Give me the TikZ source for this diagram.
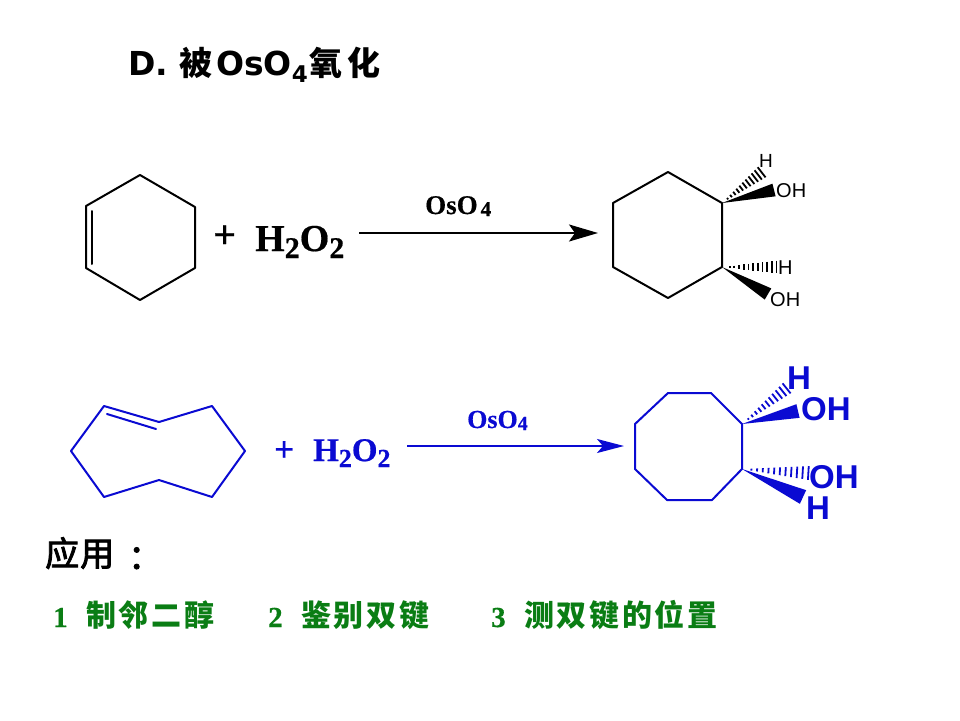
\documentclass[tikz,border=0pt]{standalone}
\usepackage{fontspec}
\usetikzlibrary{calc,arrows.meta}
\setmainfont[BoldFeatures={FakeBold=0.5}]{Liberation Serif}
\newfontfamily\cjk{Noto Sans CJK SC}
\newfontfamily\cjkm[FakeBold=2.5]{Noto Sans CJK SC}
\newfontfamily\cjks[LetterSpace=9]{Noto Sans CJK SC}
\newfontfamily\titlefont{DejaVu Sans}
\newfontfamily\labelfont{Liberation Sans}
\definecolor{rxblue}{RGB}{10,10,210}
\definecolor{rxgreen}{RGB}{10,125,20}
\newcommand{\fsz}[1]{\fontsize{#1}{#1}\selectfont}
\newcommand{\lowsub}[3]{\raisebox{-#1pt}{\fsz{#2}#3}}
\newcommand{\hashbond}[4][]{%
  \foreach \t in {0.14,0.225,...,1.0}{
    \draw[#1,line width=1.8pt] ($(#2)!\t!(#3)!{#4*\t*1pt}!90:(#3)$) -- ($(#2)!\t!(#3)!{#4*\t*1pt}!-90:(#3)$);
  }}
\newcommand{\wedgebond}[4][]{%
  \fill[#1] (#2) -- ($(#3)!#4pt!90:(#2)$) -- ($(#3)!#4pt!-90:(#2)$) -- cycle;}
\tikzset{
  txt/.style={inner sep=0pt,anchor=base west},
  bondk/.style={line width=2pt,black,line join=round,line cap=round},
  bondb/.style={line width=2pt,rxblue,line join=round,line cap=round},
  arrowk/.style={line width=2pt,black,-{Stealth[length=29pt,width=17pt,inset=6pt]}},
  arrowb/.style={line width=2pt,rxblue,-{Stealth[length=27pt,width=14pt,inset=6pt]}}
}
\begin{document}
\begin{tikzpicture}[x=1pt,y=-1pt]
\useasboundingbox (0,0) rectangle (960,720);
\fill[white] (0,0) rectangle (960,720);

% title
\node[txt] (title) at (128,75) {\titlefont\bfseries\fsz{33}D.\hspace{11pt}{\cjk\fsz{33}被}\hspace{4pt}OsO\lowsub{7}{23}{4}\hspace{2pt}{\cjk\fsz{33}氧\hspace{5pt}化}};

% cyclohexene
\coordinate (a1) at (140,175); \coordinate (a2) at (195,207); \coordinate (a3) at (195,268);
\coordinate (a4) at (140,300); \coordinate (a5) at (86,268); \coordinate (a6) at (86,206);
\coordinate (a7) at (92,211); \coordinate (a8) at (92,264);
\draw[bondk] (a1) -- (a2) -- (a3) -- (a4) -- (a5) -- (a6) -- cycle;
\draw[bondk] (a7) -- (a8);

\node[txt] (plus1) at (213,248) {\bfseries\fsz{40}+};
\node[txt] (h2o2a) at (255,251) {\bfseries\fsz{38}H\lowsub{7}{30}{2}O\lowsub{7}{30}{2}};
\node[txt] (os1) at (425,214) {\bfseries\fsz{27}OsO\hspace{3pt}\lowsub{2}{21}{4}};
\coordinate (s1) at (359,233); \coordinate (e1) at (598,233);
\draw[arrowk] (s1) -- (e1);

% product 1
\coordinate (b1) at (668,172); \coordinate (b2) at (722,203); \coordinate (b3) at (722,267);
\coordinate (b4) at (668,298); \coordinate (b5) at (613,267); \coordinate (b6) at (613,203);
\draw[bondk] (b1) -- (b2) -- (b3) -- (b4) -- (b5) -- (b6) -- cycle;
\coordinate (bh1) at (762,172); \coordinate (bo1) at (774,190);
\coordinate (bh2) at (777,267); \coordinate (bo2) at (768,294);
\hashbond[black]{b2}{bh1}{6.5}
\wedgebond[black]{b2}{bo1}{6.5}
\hashbond[black]{b3}{bh2}{6.5}
\wedgebond[black]{b3}{bo2}{6.5}
\node[txt] (h1) at (759,167) {\labelfont\fsz{19}H};
\node[txt] (oh1) at (776,197) {\labelfont\fsz{20}OH};
\node[txt] (h2) at (778,274) {\labelfont\fsz{20}H};
\node[txt] (oh2) at (770,306) {\labelfont\fsz{20}OH};

% cyclodecene
\coordinate (c1) at (104,406); \coordinate (c2) at (159,422); \coordinate (c3) at (212,406);
\coordinate (c4) at (245,451); \coordinate (c5) at (212,497); \coordinate (c6) at (159,480);
\coordinate (c7) at (104,497); \coordinate (c8) at (71,451);
\coordinate (c9) at (107,414); \coordinate (c10) at (156,429);
\draw[bondb] (c1) -- (c2) -- (c3) -- (c4) -- (c5) -- (c6) -- (c7) -- (c8) -- cycle;
\draw[bondb] (c9) -- (c10);

\node[rxblue,txt] (plus2) at (274,461) {\bfseries\fsz{35}+};
\node[rxblue,txt] (h2o2b) at (313,461) {\bfseries\fsz{33}H\lowsub{6}{26}{2}O\lowsub{6}{26}{2}};
\node[rxblue,txt] (os2) at (467,428) {\bfseries\fsz{26}OsO\lowsub{2}{20}{4}};
\coordinate (s2) at (407,446); \coordinate (e2) at (624,446);
\draw[arrowb] (s2) -- (e2);

% product 2
\coordinate (d1) at (668,393); \coordinate (d2) at (711,393); \coordinate (d3) at (742,424);
\coordinate (d4) at (742,469); \coordinate (d5) at (712,500); \coordinate (d6) at (667,500);
\coordinate (d7) at (635,469); \coordinate (d8) at (635,424);
\draw[bondb] (d1) -- (d2) -- (d3) -- (d4) -- (d5) -- (d6) -- (d7) -- (d8) -- cycle;
\coordinate (dh1) at (787,388); \coordinate (do1) at (798,411);
\coordinate (dh2) at (809,473); \coordinate (do2) at (803,497);
\hashbond[rxblue]{d3}{dh1}{6.5}
\wedgebond[rxblue]{d3}{do1}{7}
\hashbond[rxblue]{d4}{dh2}{7}
\wedgebond[rxblue]{d4}{do2}{7.5}
\node[rxblue,txt] (h3) at (787,389) {\labelfont\bfseries\fsz{33}H};
\node[rxblue,txt] (oh3) at (801,420) {\labelfont\bfseries\fsz{33}OH};
\node[rxblue,txt] (oh4) at (809,488) {\labelfont\bfseries\fsz{33}OH};
\node[rxblue,txt] (h4) at (806,519) {\labelfont\bfseries\fsz{33}H};

% applications
\node[txt] (app) at (45,566) {\cjkm\fsz{34}应\hspace{1pt}用\hspace{14pt}\raisebox{-3pt}{：}};
\node[rxgreen,txt] (g1a) at (53,627) {\bfseries\fsz{29}1};
\node[rxgreen,txt] (g1) at (86,626) {\cjks\bfseries\fsz{30}制邻二醇};
\node[rxgreen,txt] (g2a) at (268,627) {\bfseries\fsz{29}2};
\node[rxgreen,txt] (g2) at (301,626) {\cjks\bfseries\fsz{30}鉴别双键};
\node[rxgreen,txt] (g3a) at (491,627) {\bfseries\fsz{29}3};
\node[rxgreen,txt] (g3) at (524,626) {\cjks\bfseries\fsz{30}测双键的位置};
\end{tikzpicture}
\end{document}
